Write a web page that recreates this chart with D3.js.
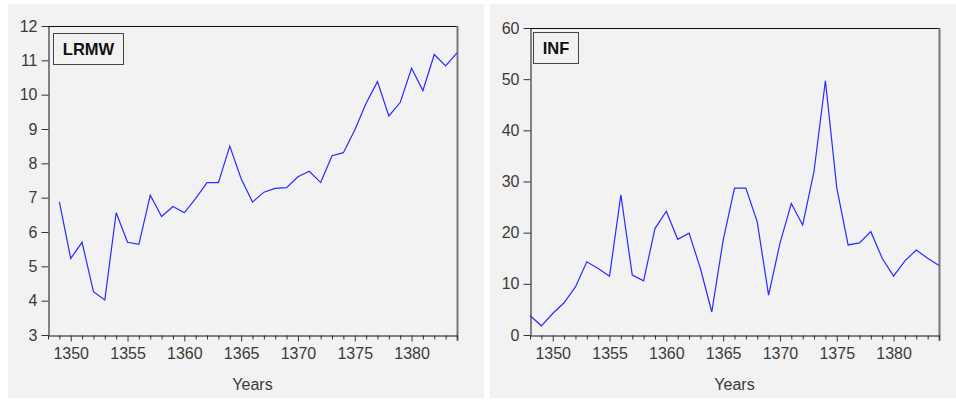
<!DOCTYPE html>
<html>
<head>
<meta charset="utf-8">
<script src="https://cdn.jsdelivr.net/npm/d3@7"></script>
<style>
body{margin:0;background:#fff;}
svg{display:block;}
text{font-family:Arial,"Liberation Sans",sans-serif;}
</style>
</head>
<body>
<svg id="chart" width="956" height="400"></svg>
<script>
// years and series
const yearsLRMW=d3.range(1349,1385);
const lrmw=[6.88,5.23,5.70,4.26,4.02,6.56,5.70,5.64,7.07,6.45,6.74,6.56,6.98,7.44,7.44,8.50,
  7.55,6.87,7.16,7.27,7.29,7.61,7.77,7.44,8.22,8.31,8.97,9.75,10.38,9.38,9.77,10.77,10.12,11.17,10.84,11.22];

const yearsINF=d3.range(1348,1385);
const inf=[3.8,1.8,4.2,6.3,9.4,14.3,13.0,11.5,27.4,11.7,10.6,20.8,24.2,18.7,19.9,13.0,4.5,
  18.5,28.7,28.7,22.1,7.8,17.9,25.7,21.5,32.0,49.7,28.8,17.6,18.0,20.2,15.0,11.5,14.5,16.6,15.0,13.6];

const lrmwTicks=d3.range(3,13);
const infTicks=[0,10,20,30,40,50,60];
const xMajor=[1350,1355,1360,1365,1370,1375,1380];

const svg=d3.select('#chart');

let drawPanel=(opt)=>{
  const g=svg.append('g');
  g.append('rect').attr('x',opt.px).attr('y',4).attr('width',opt.pw).attr('height',394).attr('fill','#f2f2f2');

  const x=d3.scaleLinear().domain([1348,1384]).range([opt.x0,opt.x1]);
  const y=d3.scaleLinear().domain(opt.ydom).range([opt.y1,opt.y0]);

  // frame top/right
  g.append('line').attr('x1',opt.x0).attr('x2',opt.x1).attr('y1',opt.y0+0.5).attr('y2',opt.y0+0.5).attr('stroke','#111');
  g.append('line').attr('x1',opt.x1+0.5).attr('x2',opt.x1+0.5).attr('y1',opt.y0).attr('y2',opt.y1+6).attr('stroke','#777').attr('stroke-width',2);

  // y axis
  const ya=g.append('g').attr('transform','translate('+(opt.x0+0.5)+',0)')
    .call(d3.axisLeft(y).tickValues(opt.yticks).tickSize(7).tickPadding(4).tickSizeOuter(0));
  ya.select('.domain').attr('stroke','#111');
  ya.selectAll('.tick line').attr('stroke','#333');
  ya.selectAll('.tick text').attr('fill','#3a3a3a').style('font-size','16px');

  // x axis minor + major
  const xm=g.append('g').attr('transform','translate(0,'+(opt.y1+0.5)+')')
    .call(d3.axisBottom(x).tickValues(d3.range(1348,1385).filter(v=>v%5!=0)).tickSize(4).tickFormat('').tickSizeOuter(0));
  xm.select('.domain').remove();
  xm.selectAll('.tick line').attr('stroke','#333');
  const xa=g.append('g').attr('transform','translate(0,'+(opt.y1+0.5)+')')
    .call(d3.axisBottom(x).tickValues(xMajor).tickSize(6).tickPadding(6).tickFormat(d3.format('d')).tickSizeOuter(0));
  xa.select('.domain').attr('stroke','#111');
  xa.selectAll('.tick line').attr('stroke','#333');
  xa.selectAll('.tick text').attr('fill','#3a3a3a').style('font-size','16px');

  g.append('text').attr('x',(opt.x0+opt.x1)/2).attr('y',390).attr('text-anchor','middle')
    .attr('fill','#3a3a3a').style('font-size','16px').text('Years');

  // line
  const line=d3.line().x((d,i)=>x(opt.years[i])).y(d=>y(d));
  g.append('path').datum(opt.values).attr('d',line).attr('fill','none').attr('stroke','#2a2aff').attr('stroke-width',1.2);

  // legend box
  g.append('rect').attr('x',opt.lx+0.5).attr('y',opt.ly+0.5).attr('width',opt.lw).attr('height',31)
    .attr('fill','#f2f2f2').attr('stroke','#444');
  g.append('text').attr('x',opt.lx+opt.lw/2+0.5).attr('y',opt.ly+22).attr('text-anchor','middle')
    .attr('fill','#111').style('font-size','16.5px').style('font-weight','bold').text(opt.name);
};

drawPanel({px:8,pw:476,x0:48,x1:457,y0:26,y1:335,ydom:[3,12],yticks:lrmwTicks,
  years:yearsLRMW,values:lrmw,name:'LRMW',lx:53,ly:33,lw:70});
drawPanel({px:490,pw:466,x0:530,x1:939,y0:28,y1:335,ydom:[0,60],yticks:infTicks,
  years:yearsINF,values:inf,name:'INF',lx:533,ly:32,lw:45});
</script>
</body>
</html>
